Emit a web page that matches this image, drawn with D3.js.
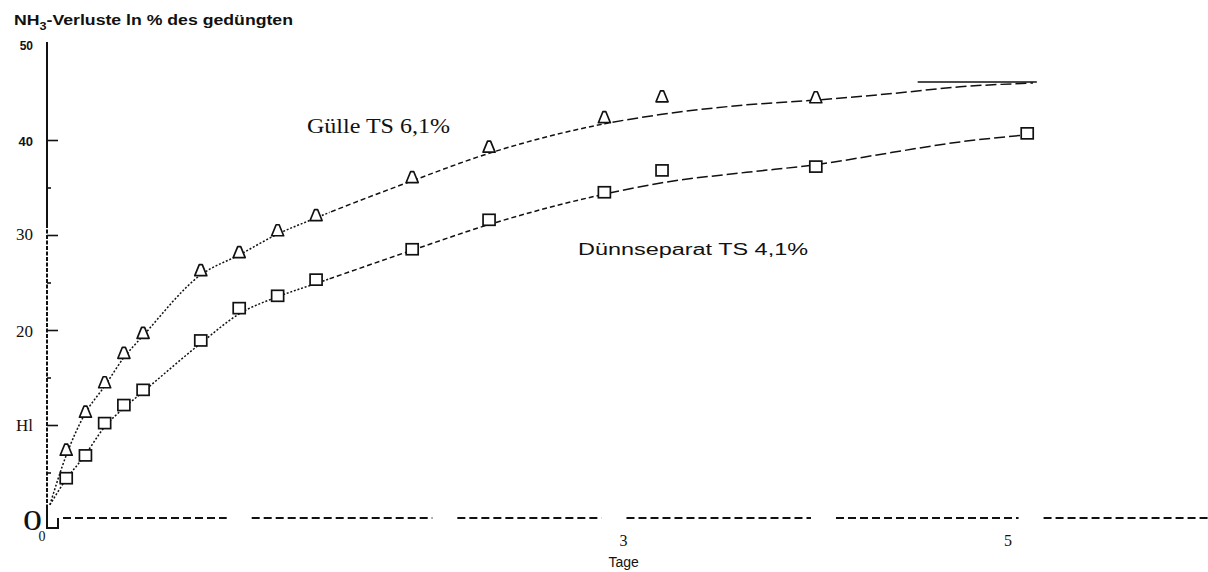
<!DOCTYPE html>
<html>
<head>
<meta charset="utf-8">
<script src="https://cdn.jsdelivr.net/npm/d3@7"></script>
<style>
  html, body { margin: 0; padding: 0; background: #fff; }
  svg { display: block; }
</style>
</head>
<body>
<svg id="chart" width="1208" height="572"></svg>
<script>
// Measurement times (days after application)
const days = [0.1, 0.2, 0.3, 0.4, 0.5, 0.8, 1.0, 1.2, 1.4, 1.9, 2.3, 2.9, 3.2, 4.0, 5.1];

// NH3 losses in % of applied N — slurry (Gülle TS 6,1%), triangles
const guelleValues = [7.4, 11.4, 14.5, 17.6, 19.7, 26.3, 28.2, 30.5, 32.1, 36.1, 39.3, 42.4, 44.6, 44.5];

// NH3 losses — liquid fraction (Dünnseparat TS 4,1%), squares
const duennValues = [4.4, 6.8, 10.2, 12.1, 13.7, 18.9, 22.3, 23.6, 25.3, 28.5, 31.6, 34.5, 36.8, 37.2, 40.7];

// Fitted curves
const fitDays    = [0.015, 0.1, 0.19, 0.3, 0.4, 0.5, 0.8, 1.0, 1.2, 1.4, 1.9, 2.3, 2.9, 3.2, 3.64, 4.0, 4.4, 4.75, 5.13];
const guelleFit  = [1.6, 6.8, 10.9, 14.1, 17.1, 19.4, 25.8, 27.9, 30.1, 31.8, 35.7, 38.6, 41.7, 42.7, 43.7, 44.2, 44.9, 45.6, 46.0];
const duennFit   = [1.6, 4.3, 6.6, 9.8, 11.8, 13.5, 18.6, 21.7, 23.5, 24.9, 28.4, 31.1, 34.3, 35.5, 36.6, 37.4, 38.7, 39.8, 40.6];

// Upper reference line (final level)
const refLevel = 46.1;
const refFrom = 4.53, refTo = 5.15;

// Axis ticks and labels
const yMajorTicks = [10, 20, 30, 40];
const yMinorTicks = [5, 15, 25, 35];
const yLabelValues = [0, 10, 20, 30, 40, 50];
const yLabelTexts  = ["0", "Hl", "20", "30", "40", "50"];
const xLabelValues = [0, 3, 5];
const xLabelTexts  = ["0", "3", "5"];
const xAxisBreaks  = [1.0, 2.07, 2.95, 4.04, 5.12];

const svg = d3.select("#chart");
const W = 1208, H = 572;

const x = d3.scaleLinear().domain([0, 5]).range([47, 1008]);
const y = d3.scaleLinear().domain([0, 50]).range([520, 45]);

const ink = "#111";
const serif = "'Liberation Serif', 'Times New Roman', serif";
const sans = "'Liberation Sans', Arial, sans-serif";

svg.append("rect").attr("width", W).attr("height", H).attr("fill", "#fff");

// ---- y axis ----
const axisX = x(0);
svg.append("line")
  .attr("x1", axisX).attr("x2", axisX)
  .attr("y1", 42).attr("y2", 224)
  .attr("stroke", ink).attr("stroke-width", 2);
svg.append("line")
  .attr("x1", axisX).attr("x2", axisX)
  .attr("y1", 224).attr("y2", 505)
  .attr("stroke", ink).attr("stroke-width", 2)
  .attr("stroke-dasharray", "4,1.5");
// bottom corner
svg.append("path")
  .attr("d", `M${axisX},505 V528 H${axisX + 11} V518`)
  .attr("fill", "none").attr("stroke", ink).attr("stroke-width", 2);

const major = svg.append("g").attr("transform", `translate(${axisX},0)`)
  .call(d3.axisRight(y).tickValues(yMajorTicks).tickSize(11).tickFormat(""));
const minor = svg.append("g").attr("transform", `translate(${axisX},0)`)
  .call(d3.axisRight(y).tickValues(yMinorTicks).tickSize(4).tickFormat(""));
[major, minor].forEach(g => {
  g.select(".domain").remove();
  g.selectAll(".tick line").attr("stroke", ink).attr("stroke-width", 1.6);
});

// y labels
const yLabelStyle = {
  0:  { font: serif, size: 30, weight: "normal", base: 530, len: 19, x: 42 },
  10: { font: serif, size: 17, weight: "normal", base: 431, x: 33 },
  20: { font: serif, size: 17, weight: "normal", base: 337, x: 33 },
  30: { font: serif, size: 17, weight: "normal", base: 240, x: 33 },
  40: { font: sans,  size: 13, weight: "bold",   base: 146, x: 33 },
  50: { font: sans,  size: 12, weight: "bold",   base: 50,  x: 33 }
};
yLabelValues.forEach((v, i) => {
  const s = yLabelStyle[v];
  const t = svg.append("text")
    .attr("x", s.x).attr("y", s.base)
    .attr("text-anchor", "end")
    .attr("font-family", s.font).attr("font-size", s.size)
    .attr("font-weight", s.weight).attr("fill", ink)
    .text(yLabelTexts[i]);
  if (s.len) t.attr("textLength", s.len).attr("lengthAdjust", "spacingAndGlyphs");
});

// y title with subscript
const title = svg.append("text")
  .attr("x", 14).attr("y", 25)
  .attr("font-family", sans).attr("font-size", 14).attr("font-weight", "bold")
  .attr("fill", ink)
  .attr("textLength", 279).attr("lengthAdjust", "spacingAndGlyphs");
title.append("tspan").text("NH");
title.append("tspan").attr("dy", 5).attr("font-size", 10).text("3");
title.append("tspan").attr("dy", -5).text("-Verluste ln % des gedüngten");

// ---- x axis (broken dashed baseline) ----
const baseY = y(0) - 2;
const breakHalf = 12.5;
const segEdges = [63];
xAxisBreaks.forEach(b => { segEdges.push(x(b) - breakHalf, x(b) + breakHalf); });
segEdges.push(W);
for (let i = 0; i < segEdges.length; i += 2) {
  svg.append("line")
    .attr("x1", segEdges[i]).attr("x2", segEdges[i + 1])
    .attr("y1", baseY).attr("y2", baseY)
    .attr("stroke", ink).attr("stroke-width", 2.2)
    .attr("stroke-dasharray", "8,4");
}

// x labels
xLabelValues.forEach((v, i) => {
  const isZero = v === 0;
  svg.append("text")
    .attr("x", isZero ? x(v) - 5 : x(v)).attr("y", isZero ? 541 : 546)
    .attr("text-anchor", "middle")
    .attr("font-family", serif).attr("font-size", isZero ? 14 : 16)
    .attr("fill", ink)
    .text(xLabelTexts[i]);
});
svg.append("text")
  .attr("x", x(3)).attr("y", 567)
  .attr("text-anchor", "middle")
  .attr("font-family", sans).attr("font-size", 14)
  .attr("fill", ink)
  .text("Tage");

// ---- fitted curves with changing dash styles ----
const line = d3.line().x(d => x(d[0])).y(d => y(d[1])).curve(d3.curveMonotoneX);
const defs = svg.append("defs");
const bands = [
  { id: "band-a", from: 0,   to: 1.47, dash: "2,1.8" },
  { id: "band-b", from: 1.47, to: 2.9, dash: "5,3" },
  { id: "band-c", from: 2.9, to: 5.5, dash: "11,4" }
];
bands.forEach(b => {
  defs.append("clipPath").attr("id", b.id)
    .append("rect")
    .attr("x", x(b.from)).attr("y", 0)
    .attr("width", x(b.to) - x(b.from)).attr("height", H);
});
[guelleFit, duennFit].forEach(series => {
  const pts = fitDays.map((d, i) => [d, series[i]]);
  bands.forEach(b => {
    svg.append("path")
      .attr("d", line(pts))
      .attr("clip-path", `url(#${b.id})`)
      .attr("fill", "none").attr("stroke", ink)
      .attr("stroke-width", 1.5)
      .attr("stroke-dasharray", b.dash);
  });
});

// reference line at the final level
svg.append("line")
  .attr("x1", x(refFrom)).attr("x2", x(refTo))
  .attr("y1", y(refLevel)).attr("y2", y(refLevel))
  .attr("stroke", ink).attr("stroke-width", 1.5);

// ---- markers ----
const tri = "M-6,5.5 L6,5.5 L1.5,-5.5 L-1.5,-5.5 Z";
svg.append("g").selectAll("path")
  .data(guelleValues.map((v, i) => [days[i], v]))
  .join("path")
  .attr("d", tri)
  .attr("transform", d => `translate(${x(d[0])},${y(d[1])})`)
  .attr("fill", "#fff").attr("stroke", ink).attr("stroke-width", 1.7)
  .attr("stroke-linejoin", "round");

svg.append("g").selectAll("rect")
  .data(duennValues.map((v, i) => [days[i], v]))
  .join("rect")
  .attr("x", d => x(d[0]) - 6).attr("y", d => y(d[1]) - 5.5)
  .attr("width", 12).attr("height", 11)
  .attr("fill", "#fff").attr("stroke", ink).attr("stroke-width", 1.7);

// ---- series labels ----
svg.append("text")
  .attr("x", 307).attr("y", 133)
  .attr("font-family", serif).attr("font-size", 21)
  .attr("fill", ink)
  .attr("textLength", 143).attr("lengthAdjust", "spacingAndGlyphs")
  .text("Gülle TS 6,1%");

svg.append("text")
  .attr("x", 578).attr("y", 255)
  .attr("font-family", sans).attr("font-size", 16)
  .attr("fill", ink)
  .attr("textLength", 230).attr("lengthAdjust", "spacingAndGlyphs")
  .text("Dünnseparat TS 4,1%");
</script>
</body>
</html>
